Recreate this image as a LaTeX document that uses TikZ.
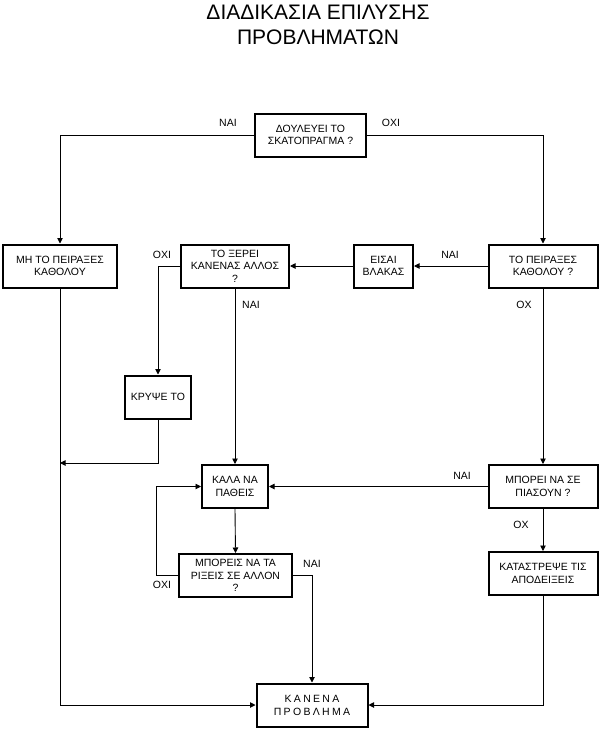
\documentclass[tikz,border=0pt]{standalone}
\usepackage{fontspec}
\setmainfont{Liberation Sans}
\usetikzlibrary{arrows.meta}

\tikzset{
	box/.style={draw,line width=2pt,align=center,minimum height=43pt,inner sep=2pt,font=\fontsize{10.5}{12.5}\selectfont},
	lbl/.style={inner sep=0pt,font=\fontsize{10.5}{12}\selectfont},
	arr/.style={line width=0.9pt,-{Triangle[length=5.5pt,width=5.5pt]}}
}

\begin{document}
\begin{tikzpicture}[x=1pt,y=-1pt]
	\useasboundingbox (0,0) rectangle (600,732);
	\node[align=center,font=\fontsize{21}{25}\selectfont] (title) at (318,25) {ΔΙΑΔΙΚΑΣΙΑ ΕΠΙΛΥΣΗΣ\\ΠΡΟΒΛΗΜΑΤΩΝ};
	
	\node[box,minimum width=111pt] (works) at (310.5,135) {ΔΟΥΛΕΥΕΙ ΤΟ\\ΣΚΑΤΟΠΡΑΓΜΑ ?};
	
	\node[box,minimum width=114pt] (donttouch) at (60,266) {ΜΗ ΤΟ ΠΕΙΡΑΞΕΣ\\ΚΑΘΟΛΟΥ};
	\node[box,minimum width=108pt] (knows) at (235,266) {ΤΟ ΞΕΡΕΙ\\ΚΑΝΕΝΑΣ ΑΛΛΟΣ\\?};
	\node[box,minimum width=59pt] (fool) at (383.5,266) {ΕΙΣΑΙ\\ΒΛΑΚΑΣ};
	\node[box,minimum width=109pt] (touched) at (543,266) {ΤΟ ΠΕΙΡΑΞΕΣ\\ΚΑΘΟΛΟΥ ?};
	
	\node[box,minimum width=66pt] (hide) at (158,397) {ΚΡΥΨΕ ΤΟ};
	
	\node[box,minimum width=66pt] (serves) at (235,486.5) {ΚΑΛΑ ΝΑ\\ΠΑΘΕΙΣ};
	\node[box,minimum width=109pt] (caught) at (543,486.5) {ΜΠΟΡΕΙ ΝΑ ΣΕ\\ΠΙΑΣΟΥΝ ?};
	
	\node[box,minimum width=113pt] (blame) at (235.5,575.5) {ΜΠΟΡΕΙΣ ΝΑ ΤΑ\\ΡΙΞΕΙΣ ΣΕ ΑΛΛΟΝ\\?};
	\node[box,minimum width=109pt] (destroy) at (543,573.5) {ΚΑΤΑΣΤΡΕΨΕ ΤΙΣ\\ΑΠΟΔΕΙΞΕΙΣ};
	
	\node[box,minimum width=111pt,font=\fontsize{10.5}{13}\selectfont\addfontfeature{LetterSpace=22}] (noproblem) at (312,705) {ΚΑΝΕΝΑ\\ΠΡΟΒΛΗΜΑ};
	
	\node[lbl] (yes1) at (228,123) {ΝΑΙ};
	\node[lbl] (no1) at (391,123) {ΟΧΙ};
	\node[lbl] (no2) at (162,255) {ΟΧΙ};
	\node[lbl] (yes2) at (251,305) {ΝΑΙ};
	\node[lbl] (yes3) at (450,255) {ΝΑΙ};
	\node[lbl] (no3) at (524,305) {ΟΧ};
	\node[lbl] (yes4) at (462,476) {ΝΑΙ};
	\node[lbl] (no4) at (521,525) {ΟΧ};
	\node[lbl] (no5) at (162,585) {ΟΧΙ};
	\node[lbl] (yes5) at (312,564) {ΝΑΙ};
	
	\coordinate (merge) at (60,463);
	
	\draw[arr] (works.west) -| (donttouch.north);	%ΝΑΙ
	\draw[arr] (works.east) -| (touched.north);	%ΟΧΙ
	\draw[arr] (touched.west) -- (fool.east);
	\draw[arr] (fool.west) -- (knows.east);
	\draw[arr] (knows.west) -| (hide.north);
	\draw[arr] (hide.south) |- (merge);
	\draw[arr] (knows.south) -- (serves.north);
	\draw[arr] (touched.south) -- (caught.north);
	\draw[arr] (caught.west) -- (serves.east);
	\draw[arr] (caught.south) -- (destroy.north);
	\draw[arr] (serves.south) -- (blame.north);
	\draw[arr] (blame.west) -- ++(-22,0) |- (serves.west);	%loop back
	\draw[arr] (blame.east) -| (noproblem.north);
	\draw[arr] (donttouch.south) |- (noproblem.west);
	\draw[arr] (destroy.south) |- (noproblem.east);
\end{tikzpicture}
\end{document}
